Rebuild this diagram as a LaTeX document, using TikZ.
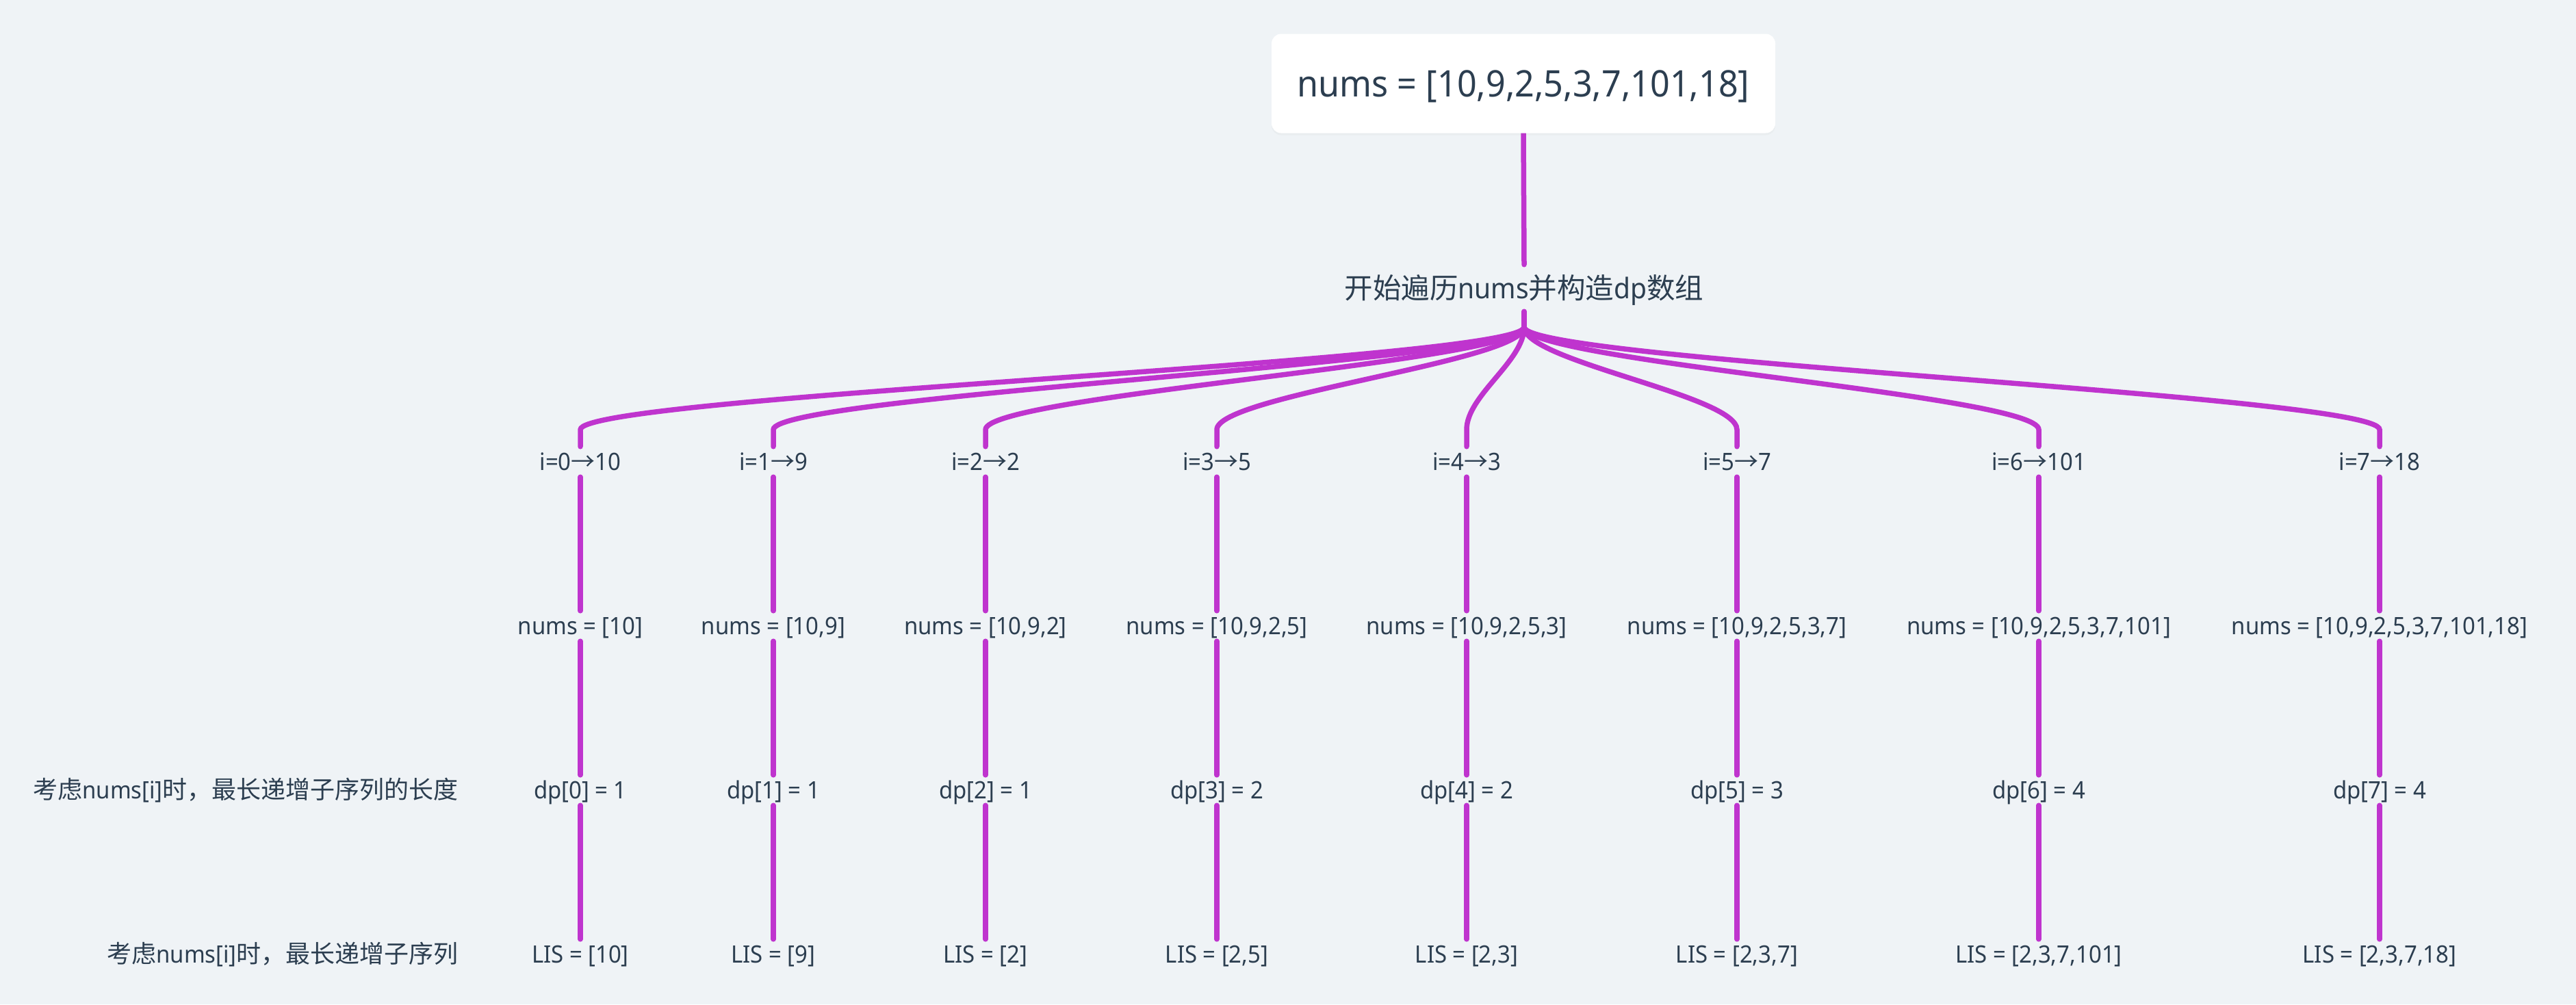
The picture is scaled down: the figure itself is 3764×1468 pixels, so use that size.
\documentclass[tikz,border=0pt]{standalone}
\usepackage{fontspec}
\setmainfont{Noto Sans}[FakeStretch=0.94]
\newfontfamily\cjk{Noto Sans CJK SC}
\usetikzlibrary{calc,shadows}
\pgfdeclarelayer{background}
\pgfsetlayers{background,main}
\definecolor{bgc}{RGB}{239,243,246}
\definecolor{lnc}{RGB}{191,52,206}
\definecolor{txc}{RGB}{44,62,80}
\begin{document}
\begin{tikzpicture}[x=1pt,y=-1pt,
  conn/.style={draw=lnc,line width=7.5pt,line cap=round},
  lab/.style={inner sep=0pt,minimum height=44pt,text height=25pt,text depth=0pt,text=txc,font=\fontsize{35}{40}\selectfont},
  rootbox/.style={fill=white,rounded corners=14pt,minimum width=736pt,minimum height=145pt,inner sep=0pt,text=txc,font=\fontsize{53.5}{60}\selectfont,text height=39pt,text depth=0pt,drop shadow={opacity=0.05,shadow xshift=0pt,shadow yshift=-3pt}},
  toplab/.style={inner sep=0pt,minimum height=68pt,text height=30pt,text depth=0pt,text=txc,font=\fontsize{41.5}{48}\selectfont}
]
\begin{pgfonlayer}{background}
\fill[bgc] (0,0) rectangle (3764,1468);
\end{pgfonlayer}
\useasboundingbox (0,0) rectangle (3764,1468);

\node[rootbox] (root) at (2226,122) {nums = [10,9,2,5,3,7,101,18]};
\node[toplab] (L1) at (2227,421) {{\cjk 开始遍历}nums{\cjk 并构造}dp{\cjk 数组}};
\coordinate (fork) at (2227,478);
\begin{pgfonlayer}{background}
\draw[conn] (root.south) -- (L1.north);
\draw[conn] (L1.south) -- (fork);
\end{pgfonlayer}

\foreach \n/\x/\vv/\arr/\dv/\lis in {
 0/848/10/{10}/1/{10},
 1/1130/9/{10,9}/1/{9},
 2/1440/2/{10,9,2}/1/{2},
 3/1778/5/{10,9,2,5}/2/{2,5},
 4/2143/3/{10,9,2,5,3}/2/{2,3},
 5/2538/7/{10,9,2,5,3,7}/3/{2,3,7},
 6/2979/101/{10,9,2,5,3,7,101}/4/{2,3,7,101},
 7/3477/18/{10,9,2,5,3,7,101,18}/4/{2,3,7,18}}{
 \node[lab] (a\n) at (\x,675) {i=\n{\cjk →}\vv};
 \node[lab] (b\n) at (\x,915) {nums = [\arr]};
 \node[lab] (c\n) at (\x,1155) {dp[\n] = \dv};
 \node[lab] (d\n) at (\x,1395) {LIS = [\lis]};
 \coordinate (t\n) at (\x,628);
 \begin{pgfonlayer}{background}
 \draw[conn] (fork) .. controls +(0,50) and +(0,-50) .. (t\n) -- (a\n.north);
 \draw[conn] (a\n.south) -- (b\n.north);
 \draw[conn] (b\n.south) -- (c\n.north);
 \draw[conn] (c\n.south) -- (d\n.north);
 \end{pgfonlayer}
}

\node[lab,anchor=east] (h1) at (670,1155) {{\cjk\fontsize{36}{40}\selectfont 考虑}nums[i]{\cjk\fontsize{36}{40}\selectfont 时，最长递增子序列的长度}};
\node[lab,anchor=east] (h2) at (670,1395) {{\cjk\fontsize{36}{40}\selectfont 考虑}nums[i]{\cjk\fontsize{36}{40}\selectfont 时，最长递增子序列}};
\end{tikzpicture}
\end{document}
